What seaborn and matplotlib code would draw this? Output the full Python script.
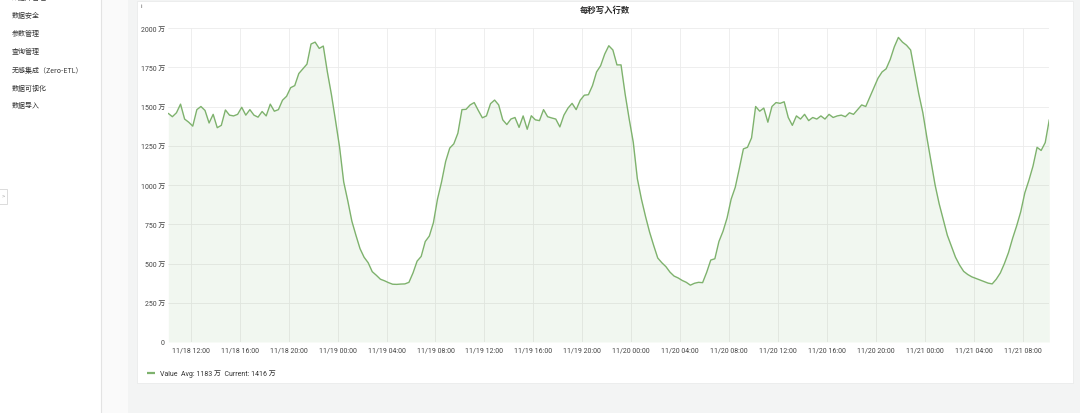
import matplotlib
matplotlib.use("Agg")
import numpy as np
import pandas as pd
import matplotlib.pyplot as plt
import matplotlib.dates as mdates
from matplotlib.patches import Rectangle
import seaborn as sns

# ==========================
# Data: write rate (万 rows / s), one sample every 20 min
# ==========================
start_time = "2023-11-18 10:10"
step = "20min"

values = [
    # 11/18 10:10 -> 22:10
    1456, 1435, 1460, 1515, 1420, 1400, 1375, 1480, 1500, 1475,
    1395, 1450, 1365, 1380, 1478, 1445, 1440, 1450, 1495, 1445,
    1480, 1445, 1432, 1468, 1440, 1515, 1470, 1480, 1540, 1565,
    1620, 1633, 1710, 1740, 1770, 1898, 1910,
    # 11/18 22:30 -> 11/19 09:50
    1870, 1885, 1720, 1575, 1410, 1240, 1020, 900, 770, 680,
    595, 540, 505, 448, 425, 400, 390, 378, 368, 367,
    369, 370, 380, 440, 515, 545, 640, 675, 760, 910,
    1020, 1150, 1235, 1262, 1330,
    # 11/19 10:10 -> 21:30
    1480, 1482, 1510, 1525, 1475, 1428, 1440, 1518, 1541, 1510,
    1415, 1385, 1420, 1430, 1367, 1440, 1355, 1441, 1415, 1410,
    1480, 1435, 1427, 1420, 1370, 1445, 1490, 1520, 1480, 1540,
    1572, 1575, 1633, 1720, 1760,
    # 11/19 21:50 -> 11/20 09:30
    1834, 1887, 1860, 1765, 1765, 1580, 1420, 1272, 1040, 910,
    800, 700, 615, 535, 505, 480, 445, 420, 408, 392,
    380, 362, 374, 380, 378, 444, 522, 530, 640, 705,
    790, 910, 985, 1105, 1230, 1240,
    # 11/20 09:50 -> 11/21 10:10
    1300, 1500, 1470, 1490, 1400, 1500, 1525, 1520, 1530, 1430,
    1380, 1440, 1420, 1450, 1410, 1430, 1420, 1440, 1420, 1450,
    1430, 1440, 1445, 1435, 1460, 1450, 1480, 1510, 1500, 1560,
    1620, 1680, 1720, 1740, 1800, 1880, 1940, 1910, 1890, 1860,
    1720, 1580, 1460, 1300, 1150, 1000, 880, 780, 680, 610,
    540, 490, 450, 430, 415, 405, 395, 385, 375, 370,
    400, 440, 500, 570, 660, 740, 830, 950, 1030, 1120,
    1240, 1220, 1270, 1416,
]

y_ticks = [0, 250, 500, 750, 1000, 1250, 1500, 1750, 2000]
y_labels = ["0", "250 万", "500 万", "750 万", "1000 万",
            "1250 万", "1500 万", "1750 万", "2000 万"]

title = "每秒写入行数"
legend_text = "Value  Avg: 1183 万  Current: 1416 万"
menu_items = ["数据库管理", "数据安全", "参数管理", "查询管理",
              "无感集成（Zero-ETL）", "数据可视化", "数据导入"]

times = pd.date_range(start_time, periods=len(values), freq=step)
df = pd.DataFrame({"time": times, "value": values})

# ==========================
# Style
# ==========================
sns.set_style("white")
plt.rcParams["font.family"] = ["Roboto", "Noto Sans CJK SC", "DejaVu Sans"]

GREEN = "#7eb26d"
W, H = 1080, 414

fig = plt.figure(figsize=(W / 100, H / 100), dpi=100)
fig.patch.set_facecolor("#f3f4f4")

# background layer in pixel coordinates
bg = fig.add_axes([0, 0, 1, 1])
bg.set_xlim(0, W)
bg.set_ylim(H, 0)
bg.axis("off")

# sidebar
bg.add_patch(Rectangle((0, 0), 100.5, H, facecolor="white", lw=0))
bg.add_patch(Rectangle((100.5, 0), 27, H, facecolor="#fafafa", lw=0))
bg.plot([100.5, 100.5], [0, H], color="#e3e3e3", lw=0.8)
menu_y = [-2, 16, 34, 52, 70.5, 88.5, 106.5]
for name, yy in zip(menu_items, menu_y):
    bg.text(12, yy, name, fontsize=5, color="#333333", va="center", ha="left",
            family=["Noto Sans CJK SC", "DejaVu Sans"])

# collapse button
bg.add_patch(Rectangle((-1, 190), 8, 15, facecolor="white",
                       edgecolor="#d6d6d6", lw=0.6))
bg.text(3.2, 197.3, ">", fontsize=4.5, color="#b0b0b0", ha="center", va="center")

# panel
bg.add_patch(Rectangle((137, 2), 936, 382, facecolor="white",
                       edgecolor="#eaebeb", lw=0.6))
bg.text(141, 6, "i", fontsize=4.5, color="#555555", ha="center", va="center")
bg.text(605, 10, title, fontsize=6, color="#2b2b2b", ha="center", va="center",
        weight="bold", family=["Noto Sans CJK SC", "DejaVu Sans"])

# legend
bg.plot([147, 155], [374, 374], color=GREEN, lw=1.6, solid_capstyle="butt")
bg.text(159.5, 374, legend_text, fontsize=5, color="#333333",
        ha="left", va="center")

# ==========================
# Main chart
# ==========================
ax = fig.add_axes([168.3 / W, (H - 343) / H, 881 / W, 314 / H])
ax.set_facecolor("white")

sns.lineplot(data=df, x="time", y="value", ax=ax, color=GREEN, linewidth=1.0)
ax.fill_between(df["time"], df["value"], color=GREEN, alpha=0.1, lw=0)

ax.set_xlim(times[0], times[-1])
ax.set_ylim(0, 2000)
ax.set_yticks(y_ticks)
ax.set_yticklabels(y_labels)
ax.xaxis.set_major_locator(mdates.HourLocator(byhour=range(0, 24, 4)))
ax.xaxis.set_major_formatter(mdates.DateFormatter("%m/%d %H:%M"))

ax.grid(True, color="#ebebeb", lw=0.6)
ax.set_axisbelow(True)
for s in ax.spines.values():
    s.set_visible(False)
ax.tick_params(axis="both", length=0, labelsize=5, colors="#444444")
ax.tick_params(axis="y", pad=2.4)
ax.tick_params(axis="x", pad=3.5)
ax.set_xlabel("")
ax.set_ylabel("")

fig.savefig("out.png", dpi=100)
